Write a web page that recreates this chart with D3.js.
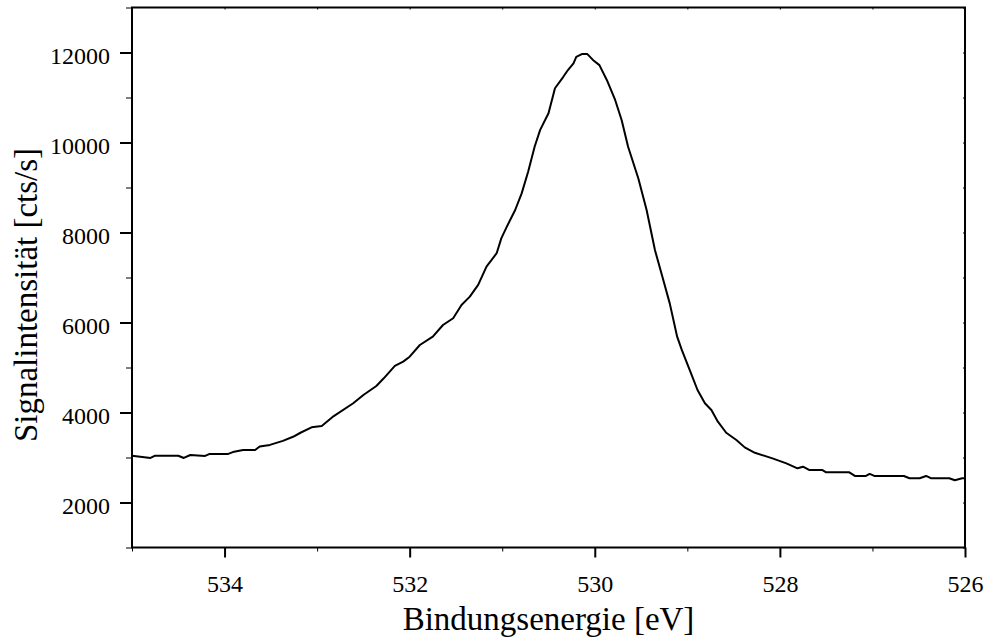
<!DOCTYPE html>
<html>
<head>
<meta charset="utf-8">
<script src="https://cdn.jsdelivr.net/npm/d3@7"></script>
<style>
  body { margin: 0; background: #fff; }
  svg, svg text { font-family: "Liberation Serif", "Times New Roman", serif; }
</style>
</head>
<body>
<svg id="chart" width="986" height="640"></svg>
<script>
// binding energy (eV) and signal (cts/s)
const energy = [535.00, 534.80, 534.75, 534.50, 534.44, 534.37, 534.21, 534.16, 533.96, 533.91,
  533.80, 533.67, 533.62, 533.51, 533.37, 533.26, 533.18, 533.06, 532.95, 532.82,
  532.61, 532.50, 532.36, 532.28, 532.16, 532.07, 532.00, 531.89, 531.75, 531.64,
  531.53, 531.44, 531.35, 531.26, 531.17, 531.06, 531.01, 530.95, 530.86, 530.79,
  530.72, 530.65, 530.59, 530.50, 530.43, 530.34, 530.29, 530.23, 530.20, 530.14,
  530.08, 530.02, 529.95, 529.87, 529.78, 529.71, 529.64, 529.53, 529.44, 529.35,
  529.28, 529.19, 529.11, 529.06, 528.96, 528.89, 528.81, 528.74, 528.67, 528.58,
  528.47, 528.38, 528.27, 528.08, 527.93, 527.81, 527.75, 527.68, 527.54, 527.50,
  527.25, 527.19, 527.07, 527.03, 526.98, 526.66, 526.60, 526.49, 526.42, 526.37,
  526.17, 526.11, 526.03, 526.00];
const counts = [3040, 2990, 3040, 3040, 2990, 3055, 3035, 3080, 3080, 3120,
  3165, 3165, 3245, 3280, 3370, 3460, 3550, 3670, 3700, 3920,
  4205, 4390, 4590, 4760, 5035, 5130, 5240, 5500, 5685, 5945,
  6095, 6390, 6575, 6835, 7240, 7540, 7870, 8130, 8500, 8870,
  9350, 9905, 10280, 10650, 11205, 11460, 11610, 11760, 11905, 11965,
  11965, 11835, 11720, 11390, 10945, 10500, 9905, 9205, 8500, 7610,
  7095, 6425, 5685, 5390, 4870, 4500, 4205, 4055, 3795, 3550,
  3390, 3225, 3105, 2980, 2870, 2760, 2795, 2720, 2720, 2670,
  2670, 2590, 2590, 2635, 2590, 2590, 2540, 2540, 2590, 2540,
  2540, 2495, 2540, 2540];

const xMajor = [534, 532, 530, 528, 526];
const xMinor = [535, 533, 531, 529, 527];
const yMajor = [2000, 4000, 6000, 8000, 10000, 12000];
const yMinor = [1000, 3000, 5000, 7000, 9000, 11000, 13000];

const xTitle = "Bindungsenergie [eV]";
const yTitle = "Signalintensität [cts/s]";

let plotLeft = 132, plotRight = 965, plotTop = 7.5, plotBottom = 547.5;
let serif = "'Liberation Serif', 'Times New Roman', serif";
let svg = d3.select("#chart");

let x = d3.scaleLinear().domain([535, 526]).range([plotLeft, plotRight]);
let y = d3.scaleLinear().domain([1000, 13000]).range([plotBottom, plotTop]);

// minor ticks first (no labels)
svg.append("g")
    .attr("transform", "translate(0," + plotBottom + ")")
    .call(d3.axisBottom(x).tickValues(xMinor).tickSize(4).tickFormat(""))
    .call(g => g.select(".domain").remove());

svg.append("g")
    .attr("transform", "translate(" + plotLeft + ",0)")
    .call(d3.axisLeft(y).tickValues(yMinor).tickSize(6).tickFormat(""))
    .call(g => g.select(".domain").remove());

// X axis
let gx = svg.append("g")
    .attr("transform", "translate(0," + plotBottom + ")")
    .call(d3.axisBottom(x).tickValues(xMajor).tickSize(10).tickFormat(d3.format("d")))
    .attr("font-family", null).style("font-family", serif);
gx.select(".domain").remove();
gx.selectAll(".tick line").attr("stroke-width", 2);
gx.selectAll("text").attr("y", 44).attr("dy", 0)
    .style("font-size", "24px").style("font-family", serif).attr("fill", "#000");

// Y axis
let gy = svg.append("g")
    .attr("transform", "translate(" + plotLeft + ",0)")
    .call(d3.axisLeft(y).tickValues(yMajor).tickSize(12).tickFormat(d3.format("d")))
    .attr("font-family", null).style("font-family", serif);
gy.select(".domain").remove();
gy.selectAll(".tick line").attr("stroke-width", 2);
gy.selectAll("text").attr("x", -22).attr("dy", "0.45em")
    .style("font-size", "24px").style("font-family", serif).attr("fill", "#000");

// small inner ticks on top and right
svg.append("g")
    .attr("transform", "translate(0," + plotTop + ")")
    .call(d3.axisBottom(x).tickValues(xMajor.concat(xMinor)).tickSize(2).tickFormat(""))
    .call(g => g.select(".domain").remove());

svg.append("g")
    .attr("transform", "translate(" + plotRight + ",0)")
    .call(d3.axisLeft(y).tickValues(yMajor.concat(yMinor)).tickSize(2).tickFormat(""))
    .call(g => g.select(".domain").remove());

svg.selectAll(".tick line").attr("stroke", "#000");

// frame
svg.append("rect")
    .attr("x", plotLeft).attr("y", plotTop)
    .attr("width", plotRight - plotLeft).attr("height", plotBottom - plotTop)
    .attr("fill", "none").attr("stroke", "#000").attr("stroke-width", 2);

// spectrum
let data = energy.map((e, i) => [e, counts[i]]);
let line = d3.line().x(d => x(d[0])).y(d => y(d[1]));
svg.append("path")
    .datum(data)
    .attr("d", line)
    .attr("fill", "none")
    .attr("stroke", "#000")
    .attr("stroke-width", 2)
    .attr("stroke-linejoin", "round");

// titles
svg.append("text")
    .attr("x", (plotLeft + plotRight) / 2).attr("y", 630)
    .attr("text-anchor", "middle").style("font-size", "33px").style("font-family", serif)
    .text(xTitle);

svg.append("text")
    .attr("transform", "translate(37,295)rotate(-90)")
    .attr("text-anchor", "middle").style("font-size", "33px").style("font-family", serif)
    .text(yTitle);
</script>
</body>
</html>
